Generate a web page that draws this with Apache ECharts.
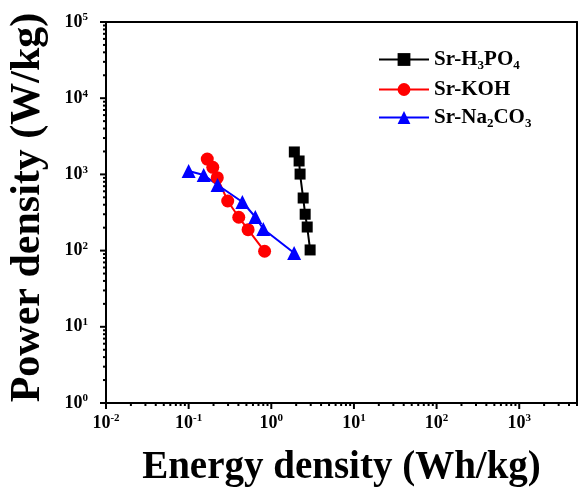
<!DOCTYPE html>
<html><head><meta charset="utf-8">
<script src="https://cdn.jsdelivr.net/npm/echarts@6/dist/echarts.min.js"></script>
<style>html,body{margin:0;padding:0;background:#fff}#c{width:579px;height:487px}</style>
</head><body><div id="c"></div>
<script>
// Data (Energy density Wh/kg, Power density W/kg)
const h3po4Energy = [1.9, 2.17, 2.23, 2.43, 2.57, 2.72, 2.95];
const h3po4Power  = [1970, 1500, 1010, 490, 300, 204, 102];
const kohEnergy   = [0.168, 0.196, 0.222, 0.297, 0.404, 0.524, 0.83];
const kohPower    = [1590, 1240, 906, 448, 274, 188, 98];
const na2co3Energy = [0.1, 0.152, 0.224, 0.447, 0.641, 0.80, 1.89];
const na2co3Power  = [1110, 982, 726, 434, 276, 192, 93];
const seriesNames = ['Sr-H3PO4', 'Sr-KOH', 'Sr-Na2CO3'];
const xMajor = [0.01, 0.1, 1, 10, 100, 1000];
const yMajor = [1, 10, 100, 1000, 10000, 100000];

function minorsOf(majors, maxV) {
  const out = [];
  majors.forEach(m => { for (let k = 2; k <= 9; k++) { const v = m * k; if (v <= maxV) out.push(v); } });
  return out;
}
const xMin = 0.01, xMax = 5000, yMin = 1, yMax = 100000;
const xMinor = minorsOf(xMajor, xMax);
const yMinor = minorsOf(yMajor.slice(0, 5), yMax);

const FONT = '"Liberation Serif", "Times New Roman", serif';
const supFmt = v => {
  const e = Math.round(Math.log10(v));
  return '{b|10}{s|' + e + '}';
};
const labelRich = {
  b: { fontFamily: FONT, fontWeight: 'bold', fontSize: 18, color: '#000' },
  s: { fontFamily: FONT, fontWeight: 'bold', fontSize: 11, color: '#000', padding: [0, 0, 9, 0] }
};
const legendFmt = {
  'Sr-H3PO4': '{t|Sr-H}{u|3}{t|PO}{u|4}',
  'Sr-KOH': '{t|Sr-KOH}',
  'Sr-Na2CO3': '{t|Sr-Na}{u|2}{t|CO}{u|3}'
};
const zip = (a, b) => a.map((v, i) => [v, b[i]]);

// tick marks drawn through the axes' own scales
const xTickData = xMajor.map(v => [v, yMin, 6]).concat(xMinor.map(v => [v, yMin, 3]));
const yTickData = yMajor.map(v => [xMin, v, 6]).concat(yMinor.map(v => [xMin, v, 3]));
function tickSeries(data, horizontal) {
  return {
    type: 'custom', silent: true, clip: false, z: 5, data: data,
    encode: { x: 0, y: 1 },
    renderItem: (params, api) => {
      const p = api.coord([api.value(0), api.value(1)]);
      const len = api.value(2);
      const shape = horizontal
        ? { x1: p[0], y1: p[1], x2: p[0], y2: p[1] + len }
        : { x1: p[0], y1: p[1], x2: p[0] - len, y2: p[1] };
      return { type: 'line', shape: shape, style: { stroke: '#000', lineWidth: 2 } };
    }
  };
}

const chart = echarts.init(document.getElementById('c'), null, { renderer: 'canvas' });
const axisBase = { type: 'log', logBase: 10, splitLine: { show: false } };
chart.setOption({
  animation: false,
  backgroundColor: '#fff',
  grid: { left: 106, right: 2, top: 22, bottom: 84, containLabel: false, outerBoundsMode: 'none' },
  xAxis: [
    Object.assign({}, axisBase, {
      min: xMin, max: xMax, position: 'bottom',
      name: 'Energy density (Wh/kg)', nameLocation: 'middle', nameGap: 45,
      nameTextStyle: { fontFamily: FONT, fontWeight: 'bold', fontSize: 39, color: '#000' },
      axisLine: { show: true, lineStyle: { color: '#000', width: 2 } },
      axisTick: { show: false },
      axisLabel: { show: true, margin: 10, customValues: xMajor, formatter: supFmt, rich: labelRich }
    }),
    Object.assign({}, axisBase, {
      min: xMin, max: xMax, position: 'top',
      axisLine: { show: true, lineStyle: { color: '#000', width: 2 } },
      axisTick: { show: false }, axisLabel: { show: false }
    })
  ],
  yAxis: [
    Object.assign({}, axisBase, {
      min: yMin, max: yMax, position: 'left',
      name: 'Power density (W/kg)', nameLocation: 'middle', nameGap: 57,
      nameTextStyle: { fontFamily: FONT, fontWeight: 'bold', fontSize: 42, color: '#000', padding: [0, 0, 0, 10] },
      axisLine: { show: true, lineStyle: { color: '#000', width: 2 } },
      axisTick: { show: false },
      axisLabel: { show: true, margin: 18, customValues: yMajor, formatter: supFmt, rich: labelRich }
    }),
    Object.assign({}, axisBase, {
      min: yMin, max: yMax, position: 'right',
      axisLine: { show: true, lineStyle: { color: '#000', width: 2 } },
      axisTick: { show: false }, axisLabel: { show: false }
    })
  ],
  legend: {
    orient: 'vertical', left: 378, top: 49, padding: 0, itemWidth: 50, itemHeight: 16, itemGap: 7,
    data: seriesNames,
    formatter: n => legendFmt[n],
    textStyle: {
      rich: {
        t: { fontFamily: FONT, fontWeight: 'bold', fontSize: 21, color: '#000' },
        u: { fontFamily: FONT, fontWeight: 'bold', fontSize: 13, color: '#000', padding: [12, 0, 0, 0] }
      }
    }
  },
  series: [
    tickSeries(xTickData, true),
    tickSeries(yTickData, false),
    { name: seriesNames[0], type: 'line', data: zip(h3po4Energy, h3po4Power), symbol: 'rect', symbolSize: 11,
      itemStyle: { color: '#000' }, lineStyle: { color: '#000', width: 2 } },
    { name: seriesNames[1], type: 'line', data: zip(kohEnergy, kohPower), symbol: 'circle', symbolSize: 13,
      itemStyle: { color: '#ff0000' }, lineStyle: { color: '#ff0000', width: 2 } },
    { name: seriesNames[2], type: 'line', data: zip(na2co3Energy, na2co3Power), symbol: 'triangle', symbolSize: 14,
      itemStyle: { color: '#0000ff' }, lineStyle: { color: '#0000ff', width: 2 } }
  ]
});
</script></body></html>
